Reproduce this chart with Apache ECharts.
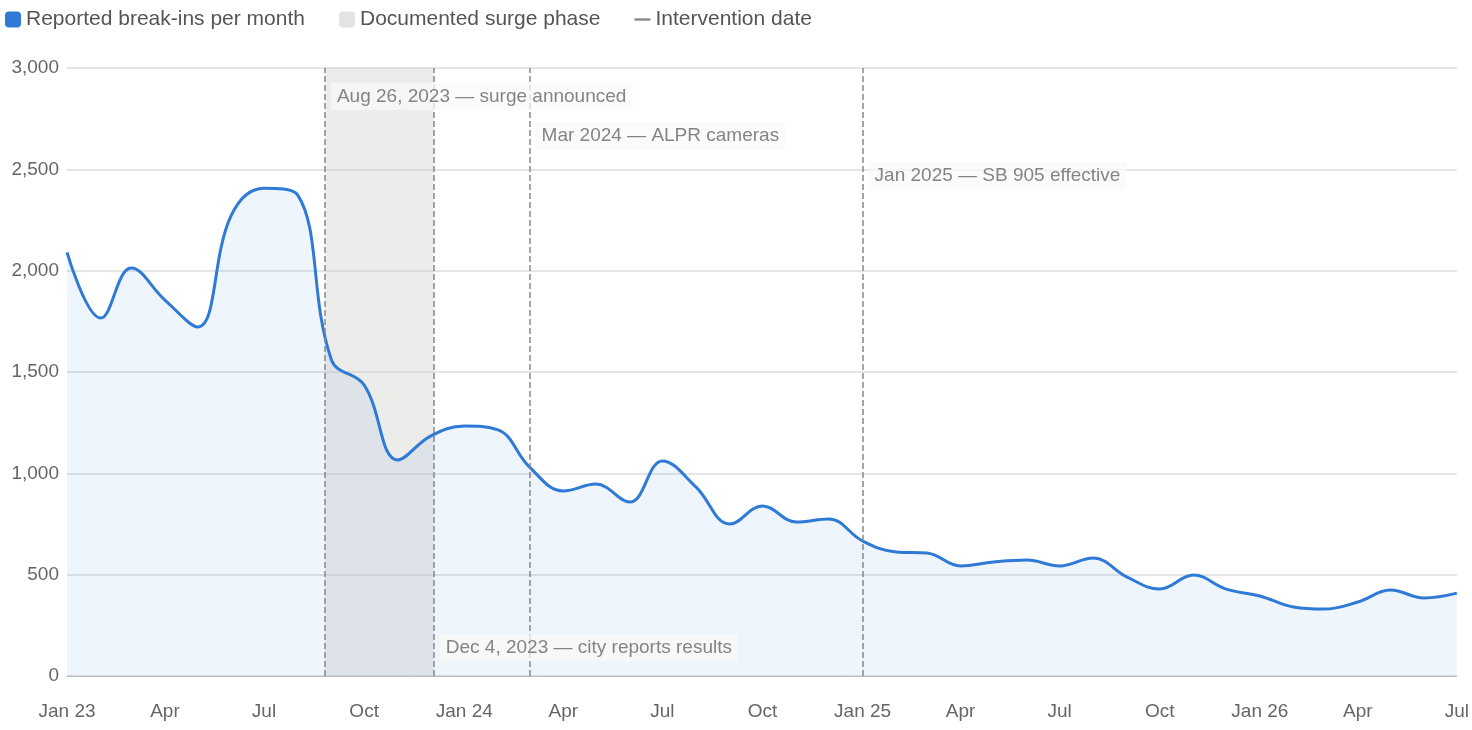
<!DOCTYPE html>
<html>
<head>
<meta charset="utf-8">
<script src="https://cdn.jsdelivr.net/npm/echarts@6/dist/echarts.min.js"></script>
<style>html,body{margin:0;padding:0;background:#fff}#main{width:1472px;height:730px}</style>
</head>
<body>
<div id="main"></div>
<script>
// monthly values, Jan 2023 .. Jul 2026
const breakIns = [2090, 1766, 2013, 1855, 1722, 2274, 2407, 2373, 1559, 1436, 1066, 1184,
  1233, 1214, 1031, 913, 947, 858, 1061, 932, 750, 839, 760, 775,
  666, 612, 607, 543, 562, 572, 543, 582, 488, 429, 498, 429,
  395, 340, 330, 365, 424, 385, 409]
const surgePhase = ['2023-08-26', '2023-12-04']
const interventions = ['2023-08-26', '2023-12-04', '2024-03-01', '2025-01-01']
const notes = [
  ['2023-08-26', 2860, 'Aug 26, 2023 — surge announced'],
  ['2024-03-01', 2665, 'Mar 2024 — ALPR cameras'],
  ['2025-01-01', 2470, 'Jan 2025 — SB 905 effective'],
  ['2023-12-04', 140, 'Dec 4, 2023 — city reports results']
]
const monthNames = ['Jan','Feb','Mar','Apr','May','Jun','Jul','Aug','Sep','Oct','Nov','Dec']

const seriesData = breakIns.map((v, i) => {
  const d = new Date(Date.UTC(2023, i, 1))
  return [d.getTime(), v]
})

const chart = echarts.init(document.getElementById('main'))
const txt = '#666'
chart.setOption({
  animation: false,
  textStyle: { fontFamily: 'Helvetica, Arial, sans-serif' },
  legend: {
    left: 0, top: 4, itemWidth: 16, itemHeight: 16, itemGap: 34,
    textStyle: { fontSize: 21, color: '#555' },
    data: [
      { name: 'Reported break-ins per month', icon: 'roundRect', itemStyle: { color: '#2f7ad6' } },
      { name: 'Documented surge phase', icon: 'roundRect', itemStyle: { color: '#e3e3e3' } },
      { name: 'Intervention date', icon: 'path://M0,0H20V3H0Z', itemStyle: { color: '#888' } }
    ]
  },
  grid: { left: 67, right: 0, top: 68, bottom: 54 },
  xAxis: {
    type: 'time',
    min: Date.UTC(2023, 0, 1), max: Date.UTC(2026, 6, 1),
    minInterval: 86400000 * 100, maxInterval: 86400000 * 125,
    axisLine: { lineStyle: { color: '#bbb' } },
    axisTick: { show: false },
    splitLine: { show: false },
    axisLabel: {
      fontSize: 19, color: txt, margin: 26, hideOverlap: false,
      formatter: v => {
        const d = new Date(v)
        const m = d.getUTCMonth()
        return m === 0 ? 'Jan ' + String(d.getUTCFullYear()).slice(2) : monthNames[m]
      }
    }
  },
  yAxis: {
    type: 'value', min: 0, max: 3000, interval: 500,
    axisLabel: { fontSize: 19, color: txt, margin: 8 },
    splitLine: { lineStyle: { color: '#dcdcdc', width: 1.5 } }
  },
  series: [
    {
      name: 'Documented surge phase', type: 'line', data: [],
      markArea: {
        silent: true, itemStyle: { color: 'rgba(200,200,195,0.35)' },
        data: [[{ xAxis: surgePhase[0] }, { xAxis: surgePhase[1] }]]
      }
    },
    {
      name: 'Reported break-ins per month', type: 'line', data: seriesData,
      smooth: 0.4, showSymbol: false, z: 3,
      lineStyle: { color: '#2f7ad6', width: 3 },
      itemStyle: { color: '#2f7ad6' },
      areaStyle: { color: 'rgba(47,122,214,0.11)' }
    },
    {
      name: 'Intervention date', type: 'line', data: [],
      markLine: {
        silent: true, symbol: 'none', label: { show: false },
        lineStyle: { color: '#888', type: 'dashed', width: 1.5 },
        data: interventions.map(d => ({ xAxis: d }))
      }
    },
    {
      name: 'notes', type: 'scatter', symbolSize: 0, z: 5,
      data: notes.map(n => ({ value: [n[0], n[1]], label: { formatter: n[2] } })),
      label: {
        show: true, position: 'right', distance: 6,
        fontSize: 19, color: '#666',
        backgroundColor: 'rgba(250,250,247,0.92)', padding: [4, 6]
      }
    }
  ]
})
</script>
</body>
</html>
